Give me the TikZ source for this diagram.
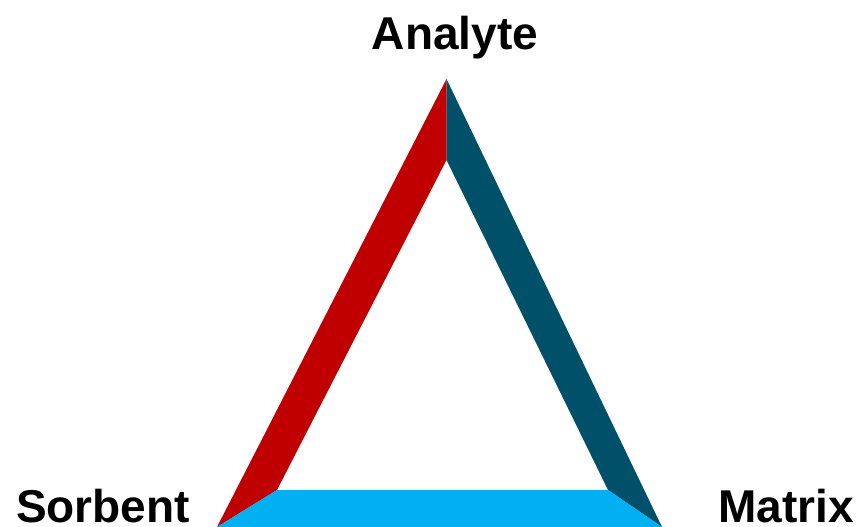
\documentclass[tikz,border=0pt]{standalone}
\usepackage{fontspec}
\setmainfont{Liberation Sans}
\definecolor{cred}{HTML}{C00000}
\definecolor{cteal}{HTML}{00506A}
\definecolor{cblue}{HTML}{00B0F0}
\tikzset{lbl/.style={font=\fontsize{46}{50}\selectfont\bfseries, inner sep=0pt}}
\begin{document}
\begin{tikzpicture}[x=1pt,y=-1pt]
\useasboundingbox (0,0) rectangle (862,527);
\coordinate (top) at (446.5,79);
\coordinate (itop) at (446.5,160);
\coordinate (bl) at (217,527);
\coordinate (ibl) at (277,490);
\coordinate (br) at (662,527);
\coordinate (ibr) at (608,490);
\fill[cred] (top) -- (itop) -- (ibl) -- (bl) -- cycle;
\fill[cteal] (top) -- (br) -- (ibr) -- (itop) -- cycle;
\fill[cblue] (bl) -- (ibl) -- (ibr) -- (br) -- cycle;
\node[lbl, anchor=base] (analyte) at (455,49) {Analyte};
\node[lbl, anchor=base west] (sorbent) at (16,522) {Sorbent};
\node[lbl, anchor=base west] (matrix) at (718,522) {Matrix};
\end{tikzpicture}
\end{document}
